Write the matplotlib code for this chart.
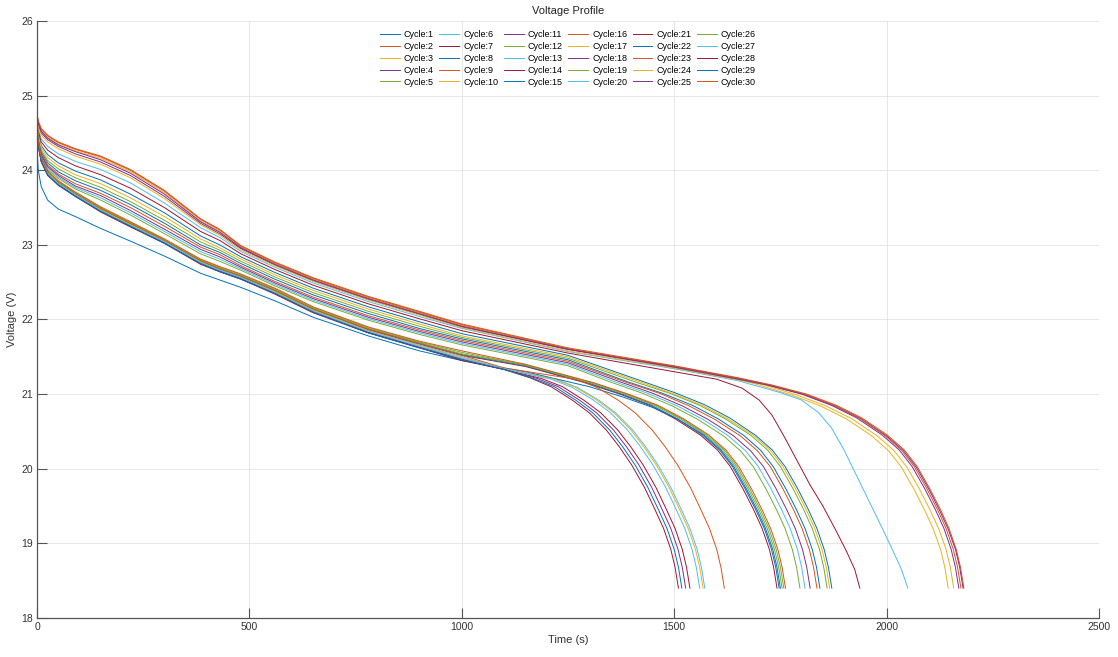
import matplotlib
matplotlib.use("Agg")
import matplotlib.pyplot as plt

# MATLAB default line colour order
colors = ["#0072BD", "#D95319", "#EDB120", "#7E2F8E", "#77AC30", "#4DBEEE", "#A2142F"]

cycles = list(range(1, 31))

# early part of every discharge curve, shared time knots (s)
early_t = [0, 3, 10, 25, 50, 90, 150, 220, 300, 385, 430, 480, 560, 650, 780, 900, 1000]

# voltages at early_t, one row per cycle (1..30)
early_v = [
    [24.66, 24.48, 24.33, 24.21, 24.10, 23.99, 23.87, 23.68, 23.43, 23.12, 23.00, 22.84, 22.63, 22.42, 22.17, 21.97, 21.81],  # 1
    [24.76, 24.66, 24.56, 24.47, 24.38, 24.29, 24.19, 24.01, 23.73, 23.35, 23.21, 22.99, 22.77, 22.56, 22.31, 22.11, 21.94],  # 2
    [24.74, 24.63, 24.53, 24.44, 24.35, 24.26, 24.16, 23.98, 23.70, 23.32, 23.18, 22.97, 22.75, 22.54, 22.29, 22.09, 21.92],  # 3
    [24.73, 24.60, 24.50, 24.41, 24.32, 24.22, 24.11, 23.93, 23.65, 23.29, 23.15, 22.95, 22.73, 22.52, 22.27, 22.07, 21.90],  # 4
    [24.64, 24.44, 24.27, 24.13, 24.02, 23.90, 23.77, 23.58, 23.33, 23.04, 22.93, 22.78, 22.57, 22.36, 22.11, 21.91, 21.76],  # 5
    [24.70, 24.55, 24.42, 24.32, 24.22, 24.12, 24.01, 23.83, 23.56, 23.23, 23.10, 22.91, 22.70, 22.49, 22.24, 22.04, 21.88],  # 6
    [24.68, 24.52, 24.38, 24.27, 24.17, 24.06, 23.94, 23.76, 23.50, 23.18, 23.06, 22.88, 22.67, 22.46, 22.21, 22.01, 21.85],  # 7
    [24.63, 24.42, 24.24, 24.10, 23.98, 23.86, 23.73, 23.54, 23.29, 23.00, 22.90, 22.75, 22.54, 22.33, 22.08, 21.88, 21.74],  # 8
    [24.75, 24.65, 24.55, 24.46, 24.37, 24.28, 24.18, 24.00, 23.72, 23.34, 23.20, 22.98, 22.76, 22.55, 22.30, 22.10, 21.93],  # 9
    [24.72, 24.58, 24.47, 24.38, 24.29, 24.19, 24.08, 23.90, 23.62, 23.27, 23.13, 22.93, 22.72, 22.51, 22.26, 22.06, 21.89],  # 10
    [24.74, 24.62, 24.52, 24.43, 24.34, 24.25, 24.14, 23.96, 23.68, 23.31, 23.17, 22.96, 22.74, 22.53, 22.28, 22.08, 21.91],  # 11
    [24.60, 24.38, 24.18, 24.01, 23.89, 23.75, 23.60, 23.40, 23.15, 22.88, 22.78, 22.66, 22.45, 22.24, 21.99, 21.80, 21.66],  # 12
    [24.61, 24.39, 24.19, 24.03, 23.91, 23.77, 23.63, 23.43, 23.18, 22.91, 22.81, 22.68, 22.47, 22.26, 22.01, 21.82, 21.68],  # 13
    [24.57, 24.35, 24.15, 23.97, 23.83, 23.68, 23.48, 23.28, 23.05, 22.78, 22.67, 22.57, 22.38, 22.13, 21.86, 21.67, 21.52],  # 14
    [24.58, 24.35, 24.15, 23.97, 23.84, 23.69, 23.48, 23.28, 23.06, 22.78, 22.68, 22.58, 22.39, 22.14, 21.87, 21.68, 21.53],  # 15
    [24.62, 24.41, 24.22, 24.07, 23.95, 23.82, 23.69, 23.50, 23.25, 22.97, 22.87, 22.72, 22.51, 22.30, 22.05, 21.86, 21.72],  # 16
    [24.65, 24.46, 24.30, 24.17, 24.06, 23.94, 23.82, 23.63, 23.38, 23.08, 22.96, 22.81, 22.60, 22.39, 22.14, 21.94, 21.78],  # 17
    [24.62, 24.40, 24.20, 24.05, 23.93, 23.79, 23.66, 23.46, 23.21, 22.94, 22.84, 22.70, 22.49, 22.28, 22.03, 21.84, 21.70],  # 18
    [24.58, 24.36, 24.16, 23.98, 23.84, 23.69, 23.49, 23.29, 23.06, 22.79, 22.69, 22.59, 22.40, 22.15, 21.88, 21.69, 21.54],  # 19
    [24.57, 24.35, 24.14, 23.96, 23.83, 23.68, 23.47, 23.27, 23.05, 22.77, 22.67, 22.57, 22.38, 22.13, 21.85, 21.66, 21.50],  # 20
    [24.55, 24.33, 24.13, 23.95, 23.81, 23.66, 23.46, 23.26, 23.03, 22.76, 22.65, 22.55, 22.36, 22.11, 21.83, 21.63, 21.47],  # 21
    [24.30, 24.00, 23.78, 23.60, 23.48, 23.38, 23.22, 23.05, 22.85, 22.62, 22.53, 22.43, 22.25, 22.03, 21.78, 21.58, 21.45],  # 22
    [24.58, 24.36, 24.16, 23.98, 23.84, 23.69, 23.49, 23.29, 23.06, 22.79, 22.68, 22.58, 22.39, 22.14, 21.87, 21.68, 21.52],  # 23
    [24.56, 24.34, 24.14, 23.96, 23.82, 23.67, 23.47, 23.27, 23.04, 22.77, 22.66, 22.56, 22.37, 22.12, 21.85, 21.65, 21.49],  # 24
    [24.55, 24.33, 24.12, 23.94, 23.81, 23.66, 23.45, 23.25, 23.03, 22.75, 22.65, 22.55, 22.35, 22.10, 21.83, 21.63, 21.46],  # 25
    [24.59, 24.36, 24.16, 23.98, 23.85, 23.70, 23.50, 23.30, 23.07, 22.80, 22.70, 22.60, 22.41, 22.16, 21.89, 21.70, 21.56],  # 26
    [24.56, 24.34, 24.13, 23.95, 23.82, 23.67, 23.46, 23.26, 23.04, 22.76, 22.66, 22.56, 22.36, 22.11, 21.84, 21.64, 21.48],  # 27
    [24.54, 24.32, 24.11, 23.93, 23.80, 23.65, 23.44, 23.24, 23.02, 22.74, 22.64, 22.54, 22.34, 22.09, 21.82, 21.62, 21.45],  # 28
    [24.54, 24.32, 24.12, 23.94, 23.80, 23.65, 23.45, 23.25, 23.02, 22.75, 22.64, 22.54, 22.35, 22.10, 21.82, 21.62, 21.46],  # 29
    [24.60, 24.37, 24.17, 23.99, 23.86, 23.71, 23.51, 23.31, 23.08, 22.81, 22.71, 22.61, 22.42, 22.17, 21.90, 21.71, 21.58],  # 30
]

# late part (plateau end and knee), time knots per cycle
tail_t = [
    [1250, 1421, 1501, 1571, 1631, 1691, 1731, 1761, 1791, 1816, 1836, 1853, 1863, 1871],                    # 1
    [1250, 1500, 1650, 1732, 1812, 1882, 1942, 2002, 2042, 2072, 2102, 2127, 2147, 2164, 2174, 2182],        # 2
    [1250, 1500, 1650, 1695, 1775, 1845, 1905, 1965, 2005, 2035, 2065, 2090, 2110, 2127, 2137, 2145],        # 3
    [1250, 1500, 1650, 1730, 1810, 1880, 1940, 2000, 2040, 2070, 2100, 2125, 2145, 2162, 2172, 2180],        # 4
    [1250, 1410, 1490, 1560, 1620, 1680, 1720, 1750, 1780, 1805, 1825, 1842, 1852, 1860],                    # 5
    [1250, 1500, 1650, 1750, 1800, 1840, 1870, 1900, 1930, 1960, 1990, 2015, 2035, 2050],                    # 6
    [1250, 1500, 1600, 1660, 1700, 1730, 1760, 1790, 1820, 1850, 1880, 1905, 1925, 1937],                    # 7
    [1250, 1393, 1473, 1543, 1603, 1663, 1703, 1733, 1763, 1788, 1808, 1825, 1835, 1843],                    # 8
    [1250, 1500, 1650, 1725, 1805, 1875, 1935, 1995, 2035, 2065, 2095, 2120, 2140, 2157, 2167, 2175],        # 9
    [1250, 1500, 1650, 1708, 1788, 1858, 1918, 1978, 2018, 2048, 2078, 2103, 2123, 2140, 2150, 2158],        # 10
    [1250, 1500, 1650, 1720, 1800, 1870, 1930, 1990, 2030, 2060, 2090, 2115, 2135, 2152, 2162, 2170],        # 11
    [1250, 1346, 1426, 1496, 1556, 1616, 1656, 1686, 1716, 1741, 1761, 1778, 1788, 1796],                    # 12
    [1250, 1358, 1438, 1508, 1568, 1628, 1668, 1698, 1728, 1753, 1773, 1790, 1800, 1808],                    # 13
    [1150, 1292, 1372, 1442, 1502, 1562, 1602, 1632, 1662, 1687, 1707, 1724, 1734, 1742],                    # 14
    [1150, 1297, 1377, 1447, 1507, 1567, 1607, 1637, 1667, 1692, 1712, 1729, 1739, 1747],                    # 15
    [1250, 1386, 1466, 1536, 1596, 1656, 1696, 1726, 1756, 1781, 1801, 1818, 1828, 1836],                    # 16
    [1250, 1416, 1496, 1566, 1626, 1686, 1726, 1756, 1786, 1811, 1831, 1848, 1858, 1866],                    # 17
    [1250, 1370, 1450, 1520, 1580, 1640, 1680, 1710, 1740, 1765, 1785, 1802, 1812, 1820],                    # 18
    [1150, 1304, 1384, 1454, 1514, 1574, 1614, 1644, 1674, 1699, 1719, 1736, 1746, 1754],                    # 19
    [1100, 1222, 1272, 1322, 1362, 1402, 1432, 1462, 1492, 1517, 1537, 1554, 1564, 1572],                    # 20
    [1100, 1187, 1237, 1287, 1327, 1367, 1397, 1427, 1457, 1482, 1502, 1519, 1529, 1537],                    # 21
    [1150, 1300, 1380, 1450, 1510, 1570, 1610, 1640, 1670, 1695, 1715, 1732, 1742, 1750],                    # 22
    [1100, 1268, 1318, 1368, 1408, 1448, 1478, 1508, 1538, 1563, 1583, 1600, 1610, 1618],                    # 23
    [1100, 1218, 1268, 1318, 1358, 1398, 1428, 1458, 1488, 1513, 1533, 1550, 1560, 1568],                    # 24
    [1100, 1177, 1227, 1277, 1317, 1357, 1387, 1417, 1447, 1472, 1492, 1509, 1519, 1527],                    # 25
    [1150, 1308, 1388, 1458, 1518, 1578, 1618, 1648, 1678, 1703, 1723, 1740, 1750, 1758],                    # 26
    [1100, 1210, 1260, 1310, 1350, 1390, 1420, 1450, 1480, 1505, 1525, 1542, 1552, 1560],                    # 27
    [1100, 1160, 1210, 1260, 1300, 1340, 1370, 1400, 1430, 1455, 1475, 1492, 1502, 1510],                    # 28
    [1100, 1168, 1218, 1268, 1308, 1348, 1378, 1408, 1438, 1463, 1483, 1500, 1510, 1518],                    # 29
    [1150, 1312, 1392, 1462, 1522, 1582, 1622, 1652, 1682, 1707, 1727, 1744, 1754, 1762],                    # 30
]

tail_v = [
    [21.52, 21.18, 21.02, 20.86, 20.68, 20.45, 20.25, 20.03, 19.73, 19.45, 19.20, 18.92, 18.68, 18.40],                # 1
    [21.62, 21.38, 21.22, 21.12, 21.00, 20.85, 20.68, 20.45, 20.25, 20.03, 19.73, 19.45, 19.20, 18.92, 18.68, 18.40],  # 2
    [21.60, 21.36, 21.20, 21.13, 20.99, 20.84, 20.67, 20.44, 20.24, 20.02, 19.72, 19.44, 19.19, 18.92, 18.68, 18.40],  # 3
    [21.60, 21.37, 21.21, 21.11, 20.99, 20.84, 20.67, 20.44, 20.24, 20.02, 19.72, 19.44, 19.19, 18.92, 18.68, 18.40],  # 4
    [21.48, 21.16, 21.01, 20.85, 20.67, 20.45, 20.25, 20.03, 19.73, 19.45, 19.20, 18.92, 18.68, 18.40],                # 5
    [21.57, 21.34, 21.18, 21.02, 20.92, 20.75, 20.55, 20.25, 19.90, 19.55, 19.20, 18.90, 18.65, 18.40],                # 6
    [21.55, 21.30, 21.20, 21.08, 20.92, 20.72, 20.42, 20.10, 19.78, 19.50, 19.18, 18.90, 18.65, 18.40],                # 7
    [21.46, 21.16, 21.01, 20.85, 20.67, 20.45, 20.25, 20.03, 19.73, 19.45, 19.20, 18.92, 18.68, 18.40],                # 8
    [21.61, 21.37, 21.21, 21.12, 21.00, 20.85, 20.68, 20.45, 20.25, 20.03, 19.73, 19.45, 19.20, 18.92, 18.68, 18.40],  # 9
    [21.58, 21.35, 21.19, 21.13, 20.99, 20.84, 20.67, 20.44, 20.24, 20.02, 19.72, 19.44, 19.19, 18.92, 18.68, 18.40],  # 10
    [21.60, 21.36, 21.20, 21.12, 21.00, 20.85, 20.68, 20.45, 20.25, 20.03, 19.73, 19.45, 19.20, 18.92, 18.68, 18.40],  # 11
    [21.38, 21.17, 21.01, 20.84, 20.66, 20.44, 20.24, 20.03, 19.73, 19.45, 19.20, 18.92, 18.68, 18.40],                # 12
    [21.40, 21.17, 21.01, 20.84, 20.66, 20.44, 20.24, 20.03, 19.73, 19.45, 19.20, 18.92, 18.68, 18.40],                # 13
    [21.37, 21.15, 21.00, 20.85, 20.67, 20.45, 20.25, 20.03, 19.73, 19.45, 19.20, 18.92, 18.68, 18.40],                # 14
    [21.38, 21.15, 21.00, 20.85, 20.67, 20.45, 20.25, 20.03, 19.73, 19.45, 19.20, 18.92, 18.68, 18.40],                # 15
    [21.44, 21.16, 21.01, 20.84, 20.66, 20.44, 20.24, 20.03, 19.73, 19.45, 19.20, 18.92, 18.68, 18.40],                # 16
    [21.50, 21.17, 21.01, 20.85, 20.67, 20.45, 20.25, 20.03, 19.73, 19.45, 19.20, 18.92, 18.68, 18.40],                # 17
    [21.42, 21.17, 21.01, 20.84, 20.66, 20.44, 20.24, 20.03, 19.73, 19.45, 19.20, 18.92, 18.68, 18.40],                # 18
    [21.39, 21.15, 21.00, 20.85, 20.67, 20.45, 20.25, 20.03, 19.73, 19.45, 19.20, 18.92, 18.68, 18.40],                # 19
    [21.34, 21.20, 21.09, 20.92, 20.75, 20.52, 20.30, 20.05, 19.75, 19.45, 19.20, 18.92, 18.68, 18.40],                # 20
    [21.33, 21.21, 21.10, 20.92, 20.75, 20.52, 20.30, 20.05, 19.75, 19.45, 19.20, 18.92, 18.68, 18.40],                # 21
    [21.30, 21.10, 20.96, 20.82, 20.66, 20.45, 20.25, 20.03, 19.73, 19.45, 19.20, 18.92, 18.68, 18.40],                # 22
    [21.35, 21.20, 21.09, 20.92, 20.75, 20.52, 20.30, 20.05, 19.75, 19.45, 19.20, 18.92, 18.68, 18.40],                # 23
    [21.34, 21.20, 21.09, 20.92, 20.75, 20.52, 20.30, 20.05, 19.75, 19.45, 19.20, 18.92, 18.68, 18.40],                # 24
    [21.33, 21.21, 21.10, 20.92, 20.75, 20.52, 20.30, 20.05, 19.75, 19.45, 19.20, 18.92, 18.68, 18.40],                # 25
    [21.39, 21.15, 21.00, 20.85, 20.67, 20.45, 20.25, 20.03, 19.73, 19.45, 19.20, 18.92, 18.68, 18.40],                # 26
    [21.34, 21.20, 21.09, 20.92, 20.75, 20.52, 20.30, 20.05, 19.75, 19.45, 19.20, 18.92, 18.68, 18.40],                # 27
    [21.33, 21.22, 21.10, 20.92, 20.75, 20.52, 20.30, 20.05, 19.75, 19.45, 19.20, 18.92, 18.68, 18.40],                # 28
    [21.33, 21.21, 21.10, 20.92, 20.75, 20.52, 20.30, 20.05, 19.75, 19.45, 19.20, 18.92, 18.68, 18.40],                # 29
    [21.40, 21.15, 21.00, 20.85, 20.67, 20.45, 20.25, 20.03, 19.73, 19.45, 19.20, 18.92, 18.68, 18.40],                # 30
]

x_ticks = [0, 500, 1000, 1500, 2000, 2500]
y_ticks = [18, 19, 20, 21, 22, 23, 24, 25, 26]


def main():
    plt.rcParams["font.family"] = ["Liberation Sans", "DejaVu Sans"]

    fig = plt.figure(figsize=(11.18, 6.57), dpi=100)
    ax = fig.add_axes([0.0331, 0.0594, 0.9499, 0.9086])

    for i, c in enumerate(cycles):
        t = early_t + tail_t[i]
        v = early_v[i] + tail_v[i]
        ax.plot(t, v, color=colors[i % 7], lw=0.7, label="Cycle:%d" % c)

    ax.set_xlim(0, 2500)
    ax.set_ylim(18, 26)
    ax.set_xticks(x_ticks)
    ax.set_yticks(y_ticks)
    ax.grid(True, color="#e3e3e3", lw=0.6)
    ax.set_axisbelow(True)

    for s in ["top", "right"]:
        ax.spines[s].set_visible(False)
    for s in ["left", "bottom"]:
        ax.spines[s].set_color("#555555")
        ax.spines[s].set_linewidth(0.9)

    ax.tick_params(direction="in", length=7.5, width=0.8, color="#555555",
                   labelsize=7.5, labelcolor="#333333", pad=3)

    ax.set_title("Voltage Profile", fontsize=8, color="#222222", pad=5)
    ax.set_xlabel("Time (s)", fontsize=8, color="#333333", labelpad=2)
    ax.set_ylabel("Voltage (V)", fontsize=8, color="#333333", labelpad=3)

    ax.legend(loc="upper center", bbox_to_anchor=(0.5, 1.0), ncol=6,
              frameon=False, fontsize=6.5, handlelength=2.2, handletextpad=0.45,
              columnspacing=0.6, labelspacing=0.32, borderaxespad=0.6)

    fig.savefig("out.png", dpi=100)


if __name__ == "__main__":
    main()
